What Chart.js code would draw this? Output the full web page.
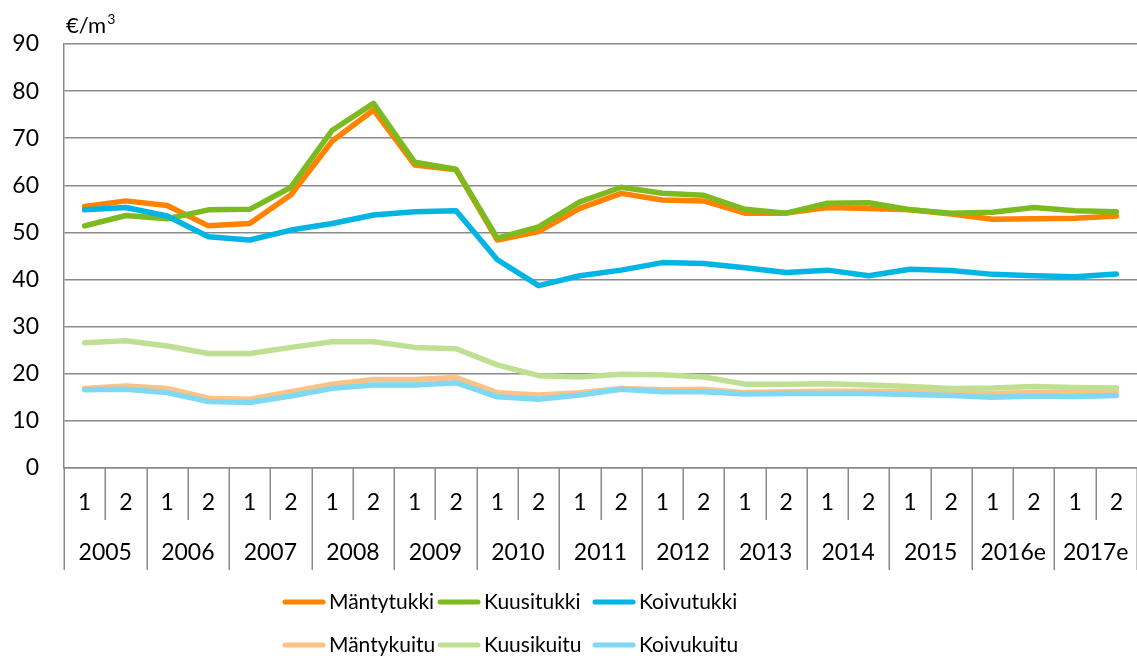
<!DOCTYPE html>
<html>
<head>
<meta charset="utf-8">
<script src="https://cdn.jsdelivr.net/npm/chart.js@4.4.0/dist/chart.umd.min.js"></script>
<style>
html, body { margin: 0; padding: 0; background: #fff; }
#wrap { width: 1137px; height: 658px; }
</style>
</head>
<body>
<div id="wrap"><canvas id="chart"></canvas></div>
<script>
// half-year periods, two per year
const years = ['2005', '2006', '2007', '2008', '2009', '2010', '2011', '2012', '2013', '2014', '2015', '2016e', '2017e'];
const halves = ['1', '2', '1', '2', '1', '2', '1', '2', '1', '2', '1', '2', '1', '2',
                '1', '2', '1', '2', '1', '2', '1', '2', '1', '2', '1', '2'];
const yTicks = [0, 10, 20, 30, 40, 50, 60, 70, 80, 90];

const mantytukki = [55.5, 56.7, 55.7, 51.4, 51.9, 58.0, 69.4, 76.0, 64.3, 63.3, 48.4, 50.2, 55.1,
                    58.3, 56.9, 56.7, 54.1, 54.1, 55.3, 55.1, 54.8, 53.9, 52.8, 52.9, 53.0, 53.5];
const kuusitukki = [51.4, 53.6, 52.9, 54.8, 54.9, 59.6, 71.7, 77.4, 64.9, 63.4, 48.8, 51.2, 56.5,
                    59.6, 58.3, 57.9, 54.9, 54.1, 56.2, 56.3, 54.8, 54.1, 54.3, 55.3, 54.6, 54.4];
const koivutukki = [54.8, 55.3, 53.5, 49.1, 48.4, 50.5, 51.9, 53.7, 54.4, 54.6, 44.2, 38.7, 40.8,
                    42.0, 43.6, 43.4, 42.5, 41.5, 42.0, 40.8, 42.2, 41.9, 41.1, 40.8, 40.6, 41.2];
const mantykuitu = [16.9, 17.4, 16.9, 14.8, 14.6, 16.2, 17.8, 18.8, 18.8, 19.2, 16.0, 15.5, 16.0,
                    16.9, 16.6, 16.7, 16.0, 16.2, 16.3, 16.3, 16.2, 16.0, 15.8, 16.0, 16.0, 16.2];
const kuusikuitu = [26.6, 27.0, 25.9, 24.3, 24.3, 25.6, 26.8, 26.8, 25.6, 25.3, 21.9, 19.6, 19.3,
                    19.9, 19.8, 19.3, 17.8, 17.8, 17.9, 17.6, 17.3, 16.9, 17.0, 17.3, 17.1, 17.0];
const koivukuitu = [16.6, 16.7, 16.0, 14.1, 13.9, 15.3, 16.9, 17.6, 17.6, 18.1, 15.1, 14.6, 15.5,
                    16.7, 16.2, 16.2, 15.7, 15.8, 15.8, 15.8, 15.6, 15.4, 15.0, 15.3, 15.2, 15.4];

const FONT = 'Lato';
const GRID = '#8a8a8a';

function series(label, data, color, order) {
    return {
        label: label,
        data: data,
        borderColor: color,
        backgroundColor: color,
        borderWidth: 5.5,
        pointRadius: 0,
        tension: 0,
        borderCapStyle: 'round',
        borderJoinStyle: 'round',
        order: order
    };
}

// two-level category axis (half / year) drawn from the x scale
const twoLevelAxis = {
    id: 'twoLevelAxis',
    afterDraw(chart) {
        const ctx = chart.ctx;
        const sx = chart.scales.x;
        const base = chart.chartArea.bottom;
        ctx.save();
        ctx.strokeStyle = GRID;
        ctx.lineWidth = 1.5;
        for (let k = 0; k <= halves.length; k++) {
            const x = Math.round(sx.getPixelForValue(k - 0.5)) + 0.25;
            ctx.beginPath();
            ctx.moveTo(x, base);
            ctx.lineTo(x, base + (k % 2 === 0 ? 102 : 52));
            ctx.stroke();
        }
        ctx.fillStyle = '#000';
        ctx.font = '23px ' + FONT;
        ctx.textAlign = 'center';
        ctx.textBaseline = 'middle';
        halves.forEach((h, i) => ctx.fillText(h, sx.getPixelForValue(i), base + 35));
        years.forEach((y, j) => ctx.fillText(y, sx.getPixelForValue(2 * j + 0.5), base + 85));
        ctx.restore();
    }
};

// unit text and the two-row legend
const extras = {
    id: 'extras',
    afterDraw(chart) {
        const ctx = chart.ctx;
        ctx.save();
        ctx.fillStyle = '#000';
        ctx.textBaseline = 'middle';
        ctx.font = '22px ' + FONT;
        ctx.fillText('€/m', chart.chartArea.left + 2, 26);
        const w = ctx.measureText('€/m').width;
        ctx.font = '14px ' + FONT;
        ctx.fillText('3', chart.chartArea.left + 3 + w, 19);

        ctx.font = '21px ' + FONT;
        const colX = [282, 437, 592];
        const rowY = [602, 645];
        chart.data.datasets.forEach((ds, i) => {
            const x = colX[i % 3];
            const y = rowY[Math.floor(i / 3)];
            ctx.strokeStyle = ds.borderColor;
            ctx.lineWidth = 5;
            ctx.lineCap = 'round';
            ctx.beginPath();
            ctx.moveTo(x + 3, y);
            ctx.lineTo(x + 41, y);
            ctx.stroke();
            ctx.fillText(ds.label, x + 47, y);
        });
        ctx.restore();
    }
};

new Chart(document.getElementById('chart'), {
    type: 'line',
    data: {
        labels: halves,
        datasets: [
            series('Mäntytukki', mantytukki, '#ff8200', 6),
            series('Kuusitukki', kuusitukki, '#7cbb1f', 5),
            series('Koivutukki', koivutukki, '#00b4e4', 4),
            series('Mäntykuitu', mantykuitu, '#ffc285', 3),
            series('Kuusikuitu', kuusikuitu, '#bfe092', 2),
            series('Koivukuitu', koivukuitu, '#80d9f2', 1)
        ]
    },
    options: {
        responsive: true,
        maintainAspectRatio: false,
        animation: false,
        layout: { padding: { top: 44, right: 0, bottom: 182, left: 0 } },
        plugins: {
            legend: { display: false },
            tooltip: { enabled: false }
        },
        scales: {
            x: {
                type: 'category',
                offset: true,
                grid: { display: false },
                border: { display: true, color: GRID, width: 1.5 },
                ticks: { display: false }
            },
            y: {
                min: 0,
                max: 90,
                afterBuildTicks: (axis) => { axis.ticks = yTicks.map(v => ({ value: v })); },
                afterFit: (axis) => { axis.width = 64; },
                grid: { color: GRID, lineWidth: 1.5, drawTicks: false },
                border: { display: true, color: GRID, width: 1.5 },
                ticks: { padding: 25, color: '#000', font: { family: FONT, size: 23 } }
            }
        }
    },
    plugins: [twoLevelAxis, extras]
});
</script>
</body>
</html>
